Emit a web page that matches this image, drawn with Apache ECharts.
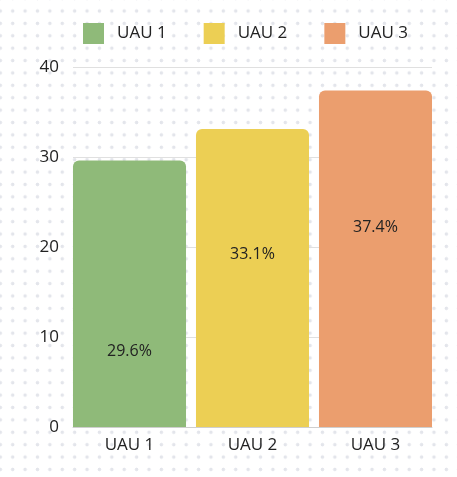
<!DOCTYPE html>
<html>
<head>
<meta charset="utf-8">
<script src="https://cdn.jsdelivr.net/npm/echarts@6/dist/echarts.min.js"></script>
<style>
    html, body {
        margin: 0;
        padding: 0;
        background-color: #fff;
    }
    body {
        background-image: radial-gradient(circle, #e3e5eb 1.7px, transparent 2px);
        background-size: 12.4px 12.4px;
        background-position: 6.5px 4.8px;
    }
    #chart {
        width: 457px;
        height: 477px;
    }
</style>
</head>
<body>
<div id="chart"></div>
<script>
const categories = ['UAU 1', 'UAU 2', 'UAU 3']
const values = [29.6, 33.1, 37.4]
const labels = ['29.6%', '33.1%', '37.4%']
const yTicks = { min: 0, max: 40, interval: 10 }
const colors = ['#8fba79', '#eccf54', '#eb9e6e']
// label distance from bar top, px
const labelOffsets = [191, 125, 137]

const chart = echarts.init(document.getElementById('chart'))

const series = categories.map((name, i) => ({
    name,
    type: 'bar',
    stack: 'all',
    xAxisIndex: 0,
    yAxisIndex: 0,
    barCategoryGap: '8.1%',
    data: categories.map((c, j) => (j === i ? values[i] : null)),
    itemStyle: {
        color: colors[i],
        borderRadius: [6, 6, 0, 0]
    },
    label: {
        show: true,
        position: ['50%', labelOffsets[i]],
        align: 'center',
        verticalAlign: 'middle',
        formatter: () => labels[i],
        color: '#222',
        fontSize: 16,
        fontFamily: 'Open Sans'
    }
}))

const option = {
    animation: false,
    textStyle: {
        fontFamily: 'Open Sans'
    },
    // grid 0 holds the bars, grid 1 the visible frame
    grid: [
        { left: 68, right: 20, top: 67, bottom: 50 },
        { left: 73, right: 25, top: 67, bottom: 50 }
    ],
    legend: {
        top: 18,
        left: 78,
        itemWidth: 21,
        itemHeight: 21,
        itemGap: 37,
        icon: 'rect',
        textStyle: {
            color: '#222',
            fontSize: 17,
            padding: [0, 0, 0, 8]
        },
        data: categories
    },
    xAxis: [
        {
            type: 'category',
            gridIndex: 0,
            data: categories,
            axisTick: { show: false },
            axisLine: { show: false },
            axisLabel: {
                color: '#222',
                fontSize: 17,
                margin: 10
            }
        },
        {
            type: 'category',
            gridIndex: 1,
            data: categories,
            axisTick: { show: false },
            axisLabel: { show: false },
            axisLine: {
                lineStyle: { color: '#cfcfcf' }
            },
            z: 5
        }
    ],
    yAxis: [
        {
            type: 'value',
            gridIndex: 0,
            min: yTicks.min,
            max: yTicks.max,
            interval: yTicks.interval,
            show: false
        },
        {
            type: 'value',
            gridIndex: 1,
            min: yTicks.min,
            max: yTicks.max,
            interval: yTicks.interval,
            axisLabel: {
                color: '#222',
                fontSize: 17,
                margin: 14
            },
            splitLine: {
                lineStyle: { color: '#e0e0e0' }
            }
        }
    ],
    series
}

chart.setOption(option)
</script>
</body>
</html>
